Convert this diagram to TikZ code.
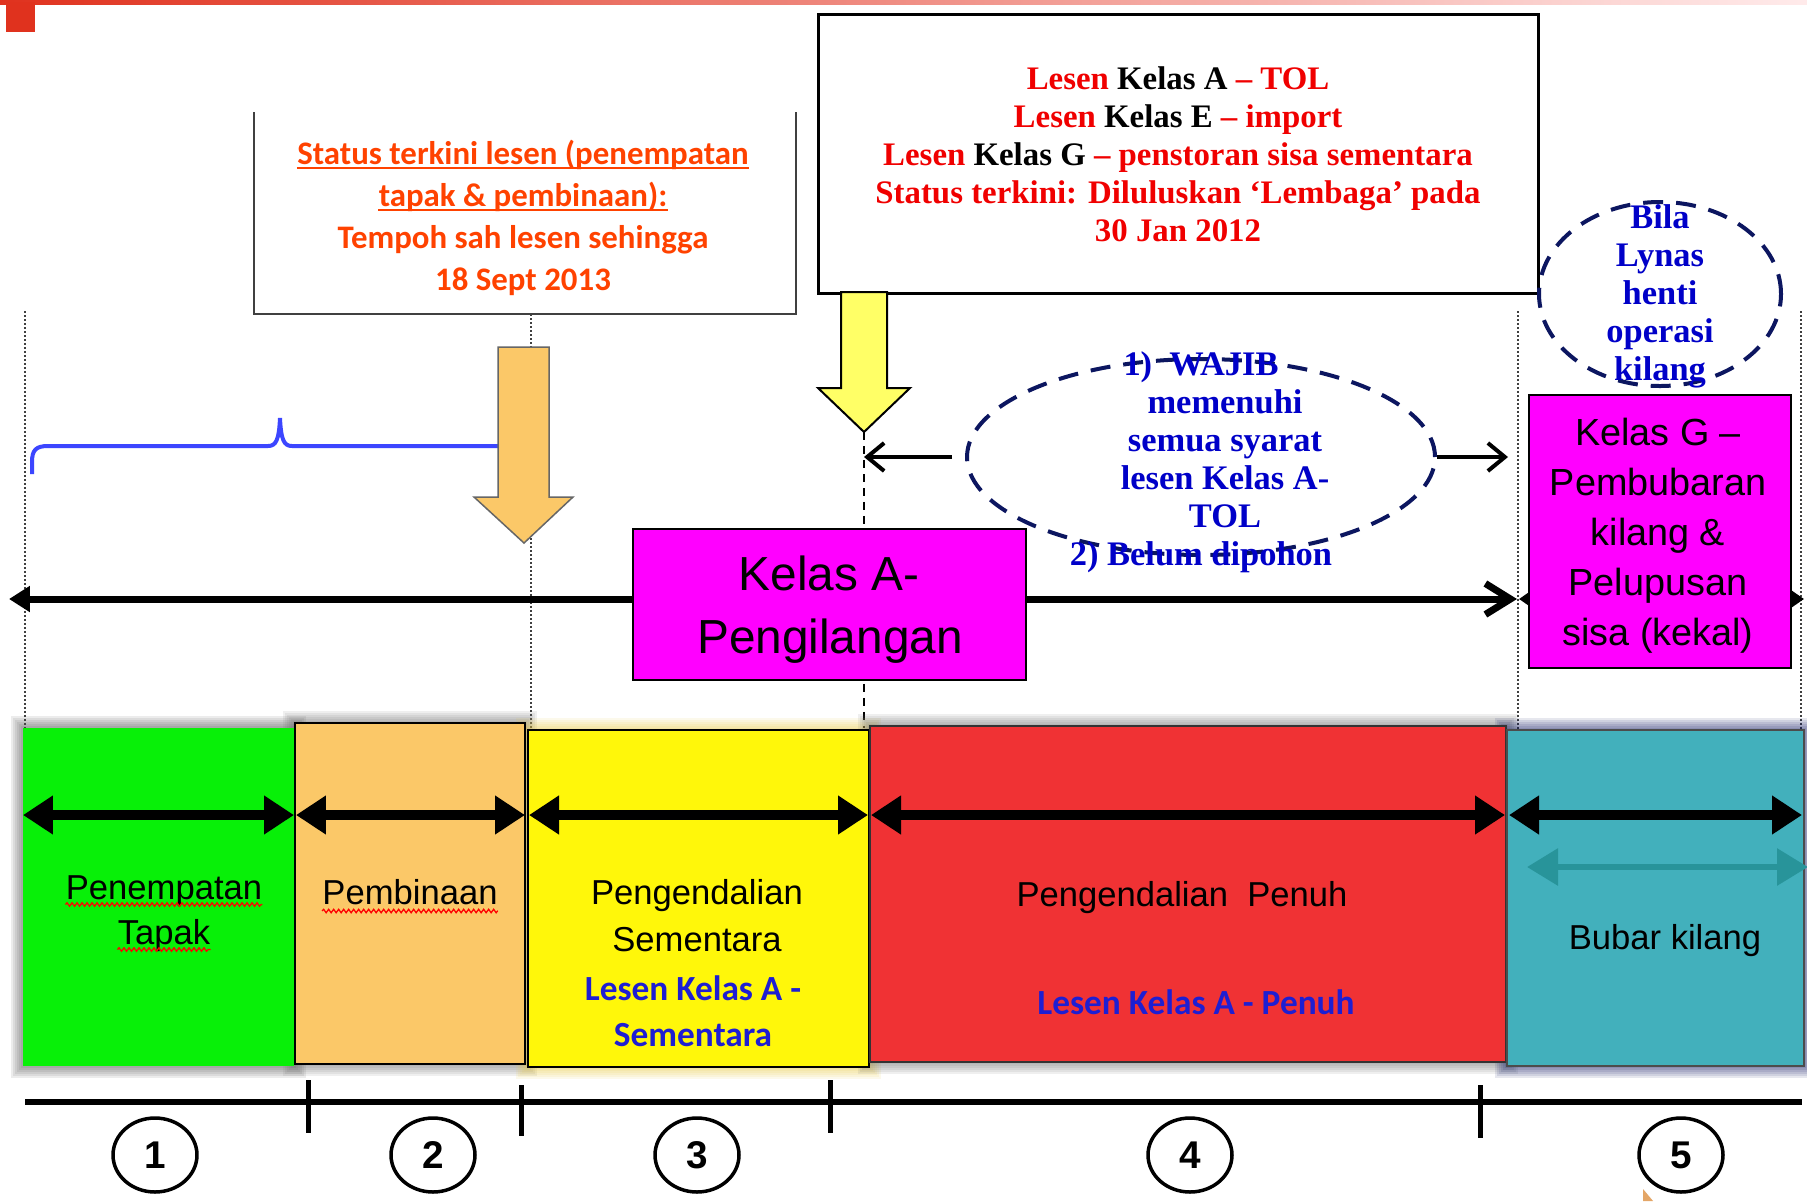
\documentclass[tikz,border=0pt]{standalone}
\usepackage{fontspec}
\setmainfont{Liberation Sans}
\newfontfamily\calib{Carlito}
\newfontfamily\tserif{Liberation Serif}
\usetikzlibrary{arrows.meta,decorations.pathmorphing,shapes.geometric}
\definecolor{cgreen}{RGB}{8,240,8}
\definecolor{corange}{RGB}{251,200,104}
\definecolor{cyellow}{RGB}{255,247,10}
\definecolor{cred}{RGB}{240,50,52}
\definecolor{cteal}{RGB}{66,176,188}
\definecolor{cteald}{RGB}{40,148,154}
\definecolor{cmag}{RGB}{255,0,255}
\definecolor{cstat}{RGB}{255,66,0}
\definecolor{ctol}{RGB}{240,0,0}
\definecolor{celblue}{RGB}{0,0,200}
\definecolor{clblue}{RGB}{30,30,210}
\definecolor{cnavy}{RGB}{12,22,96}
\definecolor{cbrace}{RGB}{60,70,255}
\definecolor{cayellow}{RGB}{255,255,102}
\definecolor{cbar}{RGB}{224,50,30}
\definecolor{cgold}{RGB}{235,200,60}
\newcommand\softglow[5]{\foreach \k in {1,...,6}{\fill[#5, opacity=0.1] (#1-2*\k,#2-2*\k) rectangle (#3+2*\k,#4+2*\k);}}
\begin{document}
\begin{tikzpicture}[x=0.02cm,y=-0.02cm,
  txt/.style={inner sep=0pt, anchor=base},
  stat/.style={txt, font=\calib\bfseries\fontsize{18.7}{22}\selectfont, text=cstat},
  tol/.style={txt, font=\tserif\bfseries\fontsize{18.7}{22}\selectfont},
  elt/.style={txt, font=\tserif\bfseries\fontsize{19.6}{22}\selectfont, text=celblue},
  ph/.style={txt, font=\fontsize{19.7}{22}\selectfont},
  bl/.style={txt, font=\calib\bfseries\fontsize{20.1}{22}\selectfont, text=clblue},
  ka/.style={txt, font=\fontsize{27.2}{30}\selectfont},
  kg/.style={txt, font=\fontsize{21.5}{24}\selectfont},
  num/.style={ellipse, draw, line width=0.07cm, minimum width=1.68cm, minimum height=1.48cm, inner sep=0pt, font=\bfseries\fontsize{22}{24}\selectfont},
  dotv/.style={line width=0.04cm, dash pattern=on 0.04cm off 0.04cm, black!75},
  phasebox/.style={anchor=north west, inner sep=0pt, outer sep=0pt},
  parrow/.style={line width=0.2cm, {Triangle[length=0.6cm,width=0.74cm]}-{Triangle[length=0.6cm,width=0.74cm]}},
  squig/.style={red, line width=0.025cm, decorate, decoration={snake, amplitude=0.035cm, segment length=0.1cm}},
  dashell/.style={ellipse, draw=cnavy, line width=0.08cm, dash pattern=on 0.4cm off 0.26cm, inner sep=0pt},
  elarrow/.style={line width=0.08cm, -{Straight Barb[length=0.34cm,width=0.56cm]}},
]
\useasboundingbox (0,0) rectangle (1807,1201);
\fill[white] (0,0) rectangle (1807,1201);
% top bar
\shade[left color=cbar, right color=red!8] (0,0) rectangle (1807,4);
\fill[cbar] (6,2) rectangle (35,32);

% dotted / dashed verticals
\coordinate (d1a) at (25,311); \coordinate (d1b) at (25,728);
\coordinate (d2a) at (531,314); \coordinate (d2b) at (531,728);
\coordinate (d3a) at (1518,311); \coordinate (d3b) at (1518,730);
\coordinate (d4a) at (1801,311); \coordinate (d4b) at (1801,730);
\draw[dotv] (d1a) -- (d1b);
\draw[dotv] (d2a) -- (d2b);
\draw[dotv] (d3a) -- (d3b);
\draw[dotv] (d4a) -- (d4b);
\coordinate (yt) at (864,432); \coordinate (yb) at (864,728);
\draw[line width=0.04cm, dash pattern=on 0.16cm off 0.12cm] (yt) -- (yb);

% status box (open top)
\draw[line width=0.04cm, black!75] (254,112) -- (254,314) -- (796,314) -- (796,112);
\node[stat] (s1) at (523,164) {Status terkini lesen (penempatan};
\node[stat] (s2) at (523,206) {tapak \& pembinaan):};
\node[stat] (s3) at (523,248) {Tempoh sah lesen sehingga};
\node[stat] (s4) at (523,290) {18 Sept 2013};
\draw[cstat, line width=0.03cm] ([yshift=-0.08cm]s1.base west) -- ([yshift=-0.08cm]s1.base east);
\draw[cstat, line width=0.03cm] ([yshift=-0.08cm]s2.base west) -- ([yshift=-0.08cm]s2.base east);

% TOL box
\node[phasebox, draw, line width=0.06cm, minimum width=720*0.02cm, minimum height=279*0.02cm] (tolbox) at (818,14) {};
\node[tol] (t1) at (1178,89) {\textcolor{ctol}{Lesen} Kelas A \textcolor{ctol}{– TOL}};
\node[tol] (t2) at (1178,127) {\textcolor{ctol}{Lesen} Kelas E \textcolor{ctol}{– import}};
\node[tol] (t3) at (1178,165) {\textcolor{ctol}{Lesen} Kelas G \textcolor{ctol}{– penstoran sisa sementara}};
\node[tol, text=ctol] (t4) at (1178,203) {Status terkini: Diluluskan ‘Lembaga’ pada};
\node[tol, text=ctol] (t5) at (1178,241) {30 Jan 2012};

% yellow down arrow
\draw[fill=cayellow, line width=0.04cm] (841,292) -- (841,388) -- (818,388) -- (864,432) -- (910,388) -- (887,388) -- (887,292) -- cycle;

% blue brace
\draw[cbrace, line width=0.08cm] (32,474) -- (32,462) .. controls (32,450) and (36,446) .. (48,446) -- (268,446) .. controls (276,446) and (279,440) .. (280,418) .. controls (281,440) and (284,446) .. (292,446) -- (505,446);

% orange down arrow
\draw[fill=corange, draw=black!60, line width=0.03cm] (498,347) -- (498,497) -- (474,497) -- (524,543) -- (573,497) -- (549,497) -- (549,347) -- cycle;

% main horizontal arrows
\coordinate (ma1) at (9,599); \coordinate (ma2) at (1517,599);
\draw[line width=0.14cm, {Triangle[length=0.42cm,width=0.5cm]}-{Straight Barb[length=0.5cm,width=0.62cm]}] (ma1) -- (ma2);
\coordinate (mb1) at (1519,599); \coordinate (mb2) at (1804,599);
\draw[line width=0.14cm, {Triangle[length=0.26cm,width=0.34cm]}-{Triangle[length=0.26cm,width=0.34cm]}] (mb1) -- (mb2);

% Kelas A box
\node[phasebox, draw, fill=cmag, line width=0.03cm, minimum width=393*0.02cm, minimum height=151*0.02cm] (kabox) at (633,529) {};
\node[ka] (ka1) at (829,590) {Kelas A-};
\node[ka] (ka2) at (830,653) {Pengilangan};

% Kelas G box
\node[phasebox, draw, fill=cmag, line width=0.03cm, minimum width=262*0.02cm, minimum height=273*0.02cm] (kgbox) at (1529,395) {};
\node[kg] (kg1) at (1658,445) {Kelas G –};
\node[kg] (kg2) at (1658,495) {Pembubaran};
\node[kg] (kg3) at (1658,545) {kilang \&};
\node[kg] (kg4) at (1658,595) {Pelupusan};
\node[kg] (kg5) at (1658,645) {sisa (kekal)};

% dashed ellipse 1
\node[dashell, minimum width=468*0.02cm, minimum height=196*0.02cm] (el1) at (1201,457) {};
\node[elt] (e1) at (1201,375) {1)\ \ WAJIB};
\node[elt] (e2) at (1225,413) {memenuhi};
\node[elt] (e3) at (1225,451) {semua syarat};
\node[elt] (e4) at (1225,489) {lesen Kelas A-};
\node[elt] (e5) at (1225,527) {TOL};
\node[elt] (e6) at (1201,565) {2) Belum dipohon};
\coordinate (la) at (864,457); \coordinate (ra) at (1508,457);
\draw[elarrow] ([xshift=-0.26cm]el1.west) -- (la);
\draw[elarrow] (el1.east) -- (ra);

% dashed ellipse 2
\node[dashell, minimum width=242*0.02cm, minimum height=184*0.02cm] (el2) at (1660,294) {};
\node[elt] (b1) at (1660,228) {Bila};
\node[elt] (b2) at (1660,266) {Lynas};
\node[elt] (b3) at (1660,304) {henti};
\node[elt] (b4) at (1660,342) {operasi};
\node[elt] (b5) at (1660,380) {kilang};

% shadows of phase boxes
\softglow{23}{728}{294}{1066}{black!70}
\softglow{295}{723}{525}{1064}{black!60}
\softglow{528}{730}{869}{1067}{cgold}
\softglow{870}{726}{1506}{1062}{black!60}
\softglow{1507}{730}{1804}{1066}{cnavy}

% phase boxes
\node[phasebox, fill=cgreen, minimum width=271*0.02cm, minimum height=338*0.02cm] (pgreen) at (23,728) {};
\node[phasebox, fill=corange, draw, line width=0.03cm, minimum width=230*0.02cm, minimum height=341*0.02cm] (porange) at (295,723) {};
\node[phasebox, fill=cyellow, draw, line width=0.03cm, minimum width=341*0.02cm, minimum height=337*0.02cm] (pyellow) at (528,730) {};
\node[phasebox, fill=cred, draw=black!80, line width=0.03cm, minimum width=636*0.02cm, minimum height=336*0.02cm] (pred) at (870,726) {};
\node[phasebox, fill=cteal, draw=black!70, line width=0.03cm, minimum width=297*0.02cm, minimum height=336*0.02cm] (pteal) at (1507,730) {};

% phase arrows
\coordinate (ga) at (23,815); \coordinate (gb) at (294,815);
\coordinate (oa) at (296,815); \coordinate (ob) at (525,815);
\coordinate (ya) at (529,815); \coordinate (yb2) at (868,815);
\coordinate (ra1) at (871,815); \coordinate (rb1) at (1505,815);
\coordinate (ta) at (1509,815); \coordinate (tb) at (1802,815);
\draw[parrow] (ga) -- (gb);
\draw[parrow] (oa) -- (ob);
\draw[parrow] (ya) -- (yb2);
\draw[parrow] (ra1) -- (rb1);
\draw[parrow] (ta) -- (tb);
\coordinate (fa) at (1527,867); \coordinate (fb) at (1808,867);
\draw[cteald, line width=0.12cm, {Triangle[length=0.62cm,width=0.72cm]}-{Triangle[length=0.62cm,width=0.72cm]}] (fa) -- (fb);

% phase texts
\node[ph] (pt1) at (164,899) {Penempatan};
\node[ph] (pt2) at (164,944) {Tapak};
\node[ph] (pt3) at (410,904) {Pembinaan};
\draw[squig] ([yshift=-0.11cm]pt1.base west) -- ([yshift=-0.11cm]pt1.base east);
\draw[squig] ([yshift=-0.11cm]pt2.base west) -- ([yshift=-0.11cm]pt2.base east);
\draw[squig] ([yshift=-0.14cm]pt3.base west) -- ([yshift=-0.14cm]pt3.base east);
\node[ph] (pt4) at (697,904) {Pengendalian};
\node[ph] (pt5) at (697,951) {Sementara};
\node[bl] (pt6) at (693,1000) {Lesen Kelas A -};
\node[bl] (pt7) at (693,1046) {Sementara};
\node[ph] (pt8) at (1182,906) {Pengendalian\ \ Penuh};
\node[bl] (pt9) at (1196,1014) {Lesen Kelas A - Penuh};
\node[ph] (pt10) at (1665,949) {Bubar kilang};

% bottom timeline
\coordinate (tl1) at (25,1102); \coordinate (tl2) at (1802,1102);
\draw[line width=0.12cm] (tl1) -- (tl2);
\foreach \xx/\ya/\yb in {308/1080/1133, 521/1085/1136, 830/1080/1133, 1480/1085/1138}
  \draw[line width=0.1cm] (\xx,\ya) -- (\xx,\yb);
\node[num] (n1) at (155,1155) {1};
\node[num] (n2) at (433,1155) {2};
\node[num] (n3) at (697,1155) {3};
\node[num] (n4) at (1190,1155) {4};
\node[num] (n5) at (1681,1155) {5};

% small artifact
\fill[brown!60!orange!70] (1643,1189) -- (1653,1201) -- (1643,1201) -- cycle;
\end{tikzpicture}
\end{document}
